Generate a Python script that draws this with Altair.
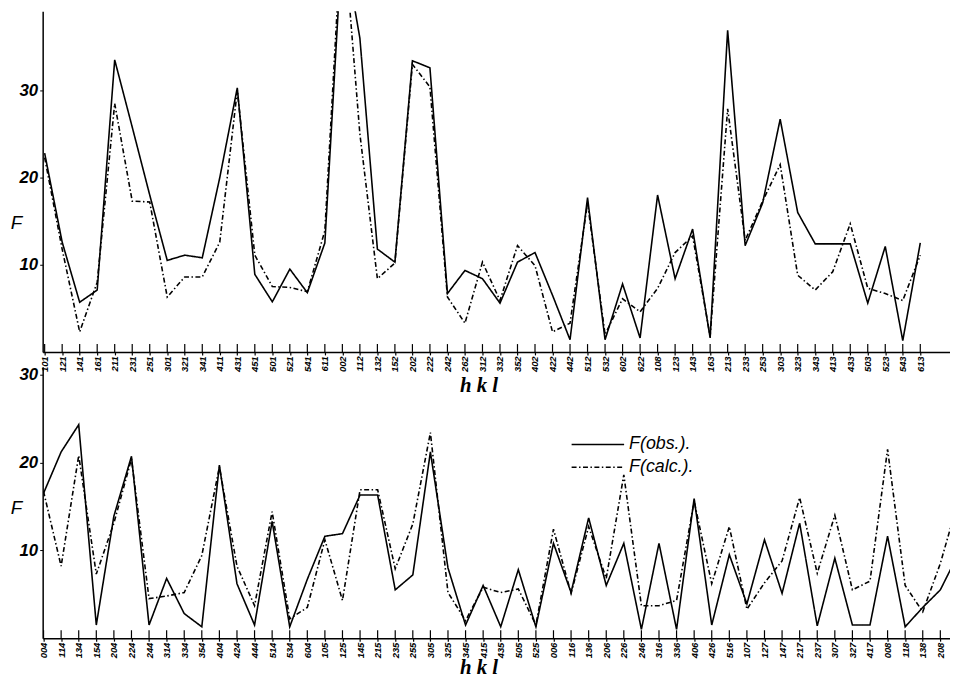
import altair as alt
import pandas as pd

# ---------------- data ----------------
TOP_HKL = ["101", "121", "141", "161", "211", "231", "251", "301", "321", "341",
           "411", "431", "451", "501", "521", "541", "611", "002", "112", "132",
           "152", "202", "222", "242", "262", "312", "332", "352", "402", "422",
           "442", "512", "532", "602", "622", "108", "123", "143", "163", "213",
           "233", "253", "303", "323", "343", "413", "433", "503", "523", "543", "613"]
TOP_OBS = [22.8, 12.6, 5.7, 7.1, 33.5, 25.8, 18.0, 10.5, 11.1, 10.8,
           20.0, 30.3, 8.9, 5.75, 9.5, 6.8, 12.5, 47.5, 36.0, 11.8,
           10.3, 33.4, 32.6, 6.7, 9.35, 8.4, 5.6, 10.3, 11.4, 6.5,
           1.4, 17.7, 1.4, 7.8, 1.6, 18.0, 8.4, 14.1, 1.6, 36.9,
           12.2, 17.1, 26.7, 16.0, 12.4, 12.4, 12.4, 5.6, 12.1, 1.3, 12.5]
TOP_CALC = [22.3, 11.8, 2.3, 8.0, 28.5, 17.3, 17.2, 6.3, 8.6, 8.6,
            12.6, 30.0, 11.1, 7.5, 7.4, 6.9, 13.9, 50.0, 25.0, 8.4,
            10.2, 33.0, 30.4, 6.3, 3.3, 10.3, 5.9, 12.2, 9.9, 2.3,
            3.3, 17.1, 2.0, 6.1, 4.6, 7.3, 11.4, 13.3, 1.8, 27.9,
            12.8, 17.3, 21.5, 8.8, 7.1, 9.2, 14.7, 7.3, 6.7, 5.9, 11.1]

BOT_HKL = ["004", "114", "134", "154", "204", "224", "244", "314", "334", "354",
           "404", "424", "444", "514", "534", "604", "105", "125", "145", "215",
           "235", "255", "305", "325", "345", "415", "435", "505", "525", "006",
           "116", "136", "206", "226", "246", "316", "336", "406", "426", "516",
           "107", "127", "147", "217", "237", "307", "327", "417", "008", "118",
           "138", "208", "228"]
BOT_OBS = [16.5, 21.2, 24.3, 1.5, 13.9, 20.7, 1.5, 6.8, 2.8, 1.3,
           19.7, 6.2, 1.5, 13.3, 1.3, 6.7, 11.6, 11.9, 16.3, 16.3,
           5.5, 7.2, 21.2, 8.0, 1.5, 6.0, 1.3, 7.8, 1.3, 10.8,
           5.2, 13.7, 6.0, 10.8, 1.0, 10.8, 1.0, 15.9, 1.5, 9.5,
           3.9, 11.2, 5.1, 13.1, 1.4, 9.1, 1.5, 1.5, 11.6, 1.3,
           3.5, 5.5, 9.5]
BOT_CALC = [16.7, 8.2, 20.8, 7.3, 13.1, 20.4, 4.5, 4.8, 5.2, 9.4,
            19.5, 8.2, 3.7, 14.4, 2.2, 3.5, 11.2, 4.3, 16.9, 16.9,
            7.9, 13.0, 23.4, 5.2, 2.0, 5.8, 5.2, 5.6, 1.5, 12.4,
            5.1, 12.7, 6.8, 18.6, 3.7, 3.7, 4.3, 15.6, 6.2, 12.7,
            3.3, 6.3, 8.8, 16.0, 7.4, 14.0, 5.5, 6.5, 21.5, 6.0,
            3.0, 8.5, 15.5]

SERIES = ["F(obs.).", "F(calc.)."]
Y_TICKS = [10, 20, 30]
TICK_TOP = 0.9  # height of the inward x-axis tick marks, in F units


def long_df(hkl, obs, calc):
    rows = []
    for i, (h, o, c) in enumerate(zip(hkl, obs, calc)):
        rows.append({"idx": i, "hkl": h, "series": SERIES[0], "F": o,
                     "lo": 0.0, "hi": TICK_TOP})
        rows.append({"idx": i, "hkl": h, "series": SERIES[1], "F": c,
                     "lo": 0.0, "hi": TICK_TOP})
    return pd.DataFrame(rows)


dash_scale = alt.Scale(domain=SERIES, range=[[1, 0], [5, 2.5, 1.5, 2.5]])
legend = alt.Legend(
    title=None, orient="none", legendX=533, legendY=429, padding=0,
    symbolType="stroke", symbolSize=2809, symbolStrokeWidth=1.6,
    symbolStrokeColor="black", labelFont="Liberation Sans",
    labelFontStyle="italic", labelFontSize=18, labelColor="black",
    rowPadding=4, labelOffset=4, clipHeight=17,
)

W = 916


def panel(hkl, obs, calc, H, ymax, xmin, xmax, n_labels, fy, hy):
    df = long_df(hkl, obs, calc)
    label_expr = "[" + ",".join("'%s'" % h for h in hkl) + "][datum.value]"
    xscale = alt.Scale(domain=[xmin, xmax], nice=False, zero=False)
    yscale = alt.Scale(domain=[0, ymax], nice=False)
    x_axis = alt.Axis(
        values=list(range(n_labels)), labelExpr=label_expr, labelAngle=270,
        ticks=True, tickSize=3, tickColor="black", tickWidth=1.2,
        grid=False, labelOverlap=False, labelFlush=False,
        labelBound=False, labelFont="Liberation Sans", labelFontSize=9.5,
        labelFontWeight="bold", labelFontStyle="italic", labelPadding=1,
        labelColor="black", domainColor="black", domainWidth=1.5,
        title="h k l", titleFont="Liberation Serif", titleFontSize=21,
        titleFontStyle="italic", titleFontWeight="bold", titleX=440,
        titleY=hy, titleBaseline="alphabetic", titleAlign="center",
        titleColor="black",
    )
    y_axis = alt.Axis(
        values=Y_TICKS, grid=False, ticks=True, tickSize=3, tickColor="black",
        labelFont="Liberation Sans", labelFontSize=17, labelFontWeight="bold",
        labelFontStyle="italic", labelColor="black", labelPadding=2,
        domainColor="black", domainWidth=1.5, title="F", titleAngle=0,
        titleX=-27, titleY=fy, titleFont="Liberation Sans",
        titleFontStyle="italic", titleFontWeight="normal", titleFontSize=19,
        titleAlign="center", titleBaseline="middle", titleColor="black",
    )
    base = alt.Chart(df)
    lines = base.mark_line(color="black", strokeWidth=1.6, clip=True).encode(
        x=alt.X("idx:Q", scale=xscale, axis=x_axis),
        y=alt.Y("F:Q", scale=yscale, axis=y_axis),
        strokeDash=alt.StrokeDash("series:N", scale=dash_scale, legend=legend),
        order="idx:Q",
    )
    ticks = base.mark_rule(color="black", strokeWidth=1.2, clip=True).encode(
        x=alt.X("idx:Q", scale=xscale, axis=x_axis),
        y=alt.Y("lo:Q", scale=yscale, axis=y_axis),
        y2="hi:Q",
    ).transform_filter(alt.datum.series == SERIES[0])
    return alt.layer(lines, ticks).properties(width=W, height=H)


top = panel(TOP_HKL, TOP_OBS, TOP_CALC, H=344, ymax=344 / 8.8,
            xmin=-2 / 17.68, xmax=914 / 17.68, n_labels=51, fy=213, hy=40)
bottom = panel(BOT_HKL, BOT_OBS, BOT_CALC, H=274, ymax=274 / 8.87,
               xmin=-0.05, xmax=51.55, n_labels=52, fy=142, hy=36)

chart = alt.vconcat(top, bottom, spacing=15, bounds="flush").properties(
    padding={"left": 2, "top": 0, "right": 0, "bottom": 0},
    background="white",
).configure_view(stroke=None)

chart.save("out.html", embed_options={"renderer": "svg", "actions": False})
